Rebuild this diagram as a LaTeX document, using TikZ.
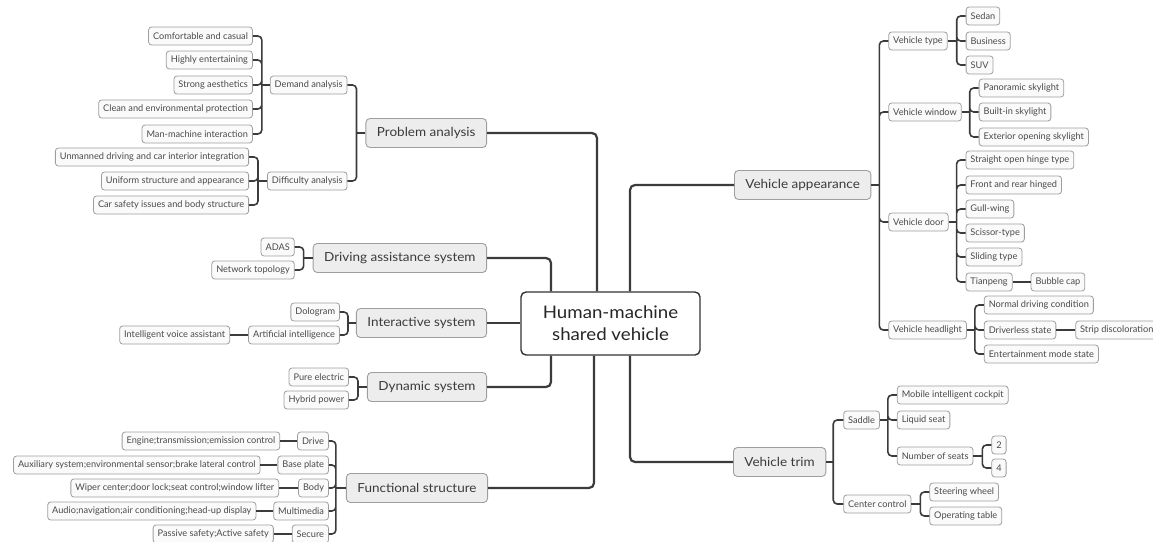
\documentclass[tikz,border=0pt]{standalone}
\usepackage{fontspec}
\setmainfont{Lato}[FakeStretch=1.08]
\newfontfamily\leaffont{Lato}
\usetikzlibrary{positioning}
\definecolor{linegray}{HTML}{3B3B3B}
\definecolor{boxgray}{HTML}{9E9E9E}
\definecolor{topicfill}{HTML}{EDEDED}
\definecolor{leaffill}{HTML}{FAFAFA}
\definecolor{textgray}{HTML}{4A4A4A}
\definecolor{rootline}{HTML}{333333}
\begin{document}
\begin{tikzpicture}[x=1pt,y=-1pt,
	leaf/.style={draw=boxgray,fill=leaffill,rounded corners=3pt,line width=0.8pt,text=textgray,font=\leaffont\fontsize{9.2}{10}\selectfont,minimum height=18pt,inner xsep=4.5pt,inner ysep=0pt},
	topic/.style={draw=boxgray,fill=topicfill,rounded corners=4pt,line width=0.9pt,text=textgray!80!black,font=\fontsize{12.5}{14}\selectfont,minimum height=29pt,inner xsep=11pt,inner ysep=0pt},
	root/.style={draw=rootline,fill=white,rounded corners=5pt,line width=1.4pt,text=black!85,font=\fontsize{17.3}{22}\selectfont,align=center,minimum width=179pt,minimum height=63pt},
	link/.style={draw=linegray,line width=2.2pt,rounded corners=5pt},
	sublink/.style={draw=linegray,line width=1.6pt,rounded corners=4pt}]
	\useasboundingbox (0,0) rectangle (1153,541);
	\clip (0,0) rectangle (1153,541);

	\node[root] (root) at (610.5,323.5) {Human-machine\\shared vehicle};

	\node[topic,anchor=east] (prob) at (487,133) {Problem analysis};
	\node[topic,anchor=east] (assist) at (487,258) {Driving assistance system};
	\node[topic,anchor=east] (inter) at (487,323) {Interactive system};
	\node[topic,anchor=east] (dyn) at (487,387) {Dynamic system};
	\node[topic,anchor=east] (func) at (488,488) {Functional structure};
	\node[topic,anchor=west] (appear) at (734,185) {Vehicle appearance};
	\node[topic,anchor=west] (trim) at (733,462) {Vehicle trim};

	% problem analysis
	\node[leaf,anchor=east] (dem) at ([xshift=-18pt]prob.west |- 0,85) {Demand analysis};
	\node[leaf,anchor=east] (dif) at ([xshift=-18pt]prob.west |- 0,181) {Difficulty analysis};
	\node[leaf,anchor=east] (dem1) at ([xshift=-17pt]dem.west |- 0,36) {Comfortable and casual};
	\node[leaf,anchor=east] (dem2) at ([xshift=-17pt]dem.west |- 0,60) {Highly entertaining};
	\node[leaf,anchor=east] (dem3) at ([xshift=-17pt]dem.west |- 0,85) {Strong aesthetics};
	\node[leaf,anchor=east] (dem4) at ([xshift=-17pt]dem.west |- 0,109) {Clean and environmental protection};
	\node[leaf,anchor=east] (dem5) at ([xshift=-17pt]dem.west |- 0,134) {Man-machine interaction};
	\node[leaf,anchor=east] (dif1) at ([xshift=-18pt]dif.west |- 0,157) {Unmanned driving and car interior integration};
	\node[leaf,anchor=east] (dif2) at ([xshift=-18pt]dif.west |- 0,181) {Uniform structure and appearance};
	\node[leaf,anchor=east] (dif3) at ([xshift=-18pt]dif.west |- 0,205) {Car safety issues and body structure};

	% driving assistance, interaction, dynamics
	\node[leaf,anchor=east] (adas) at ([xshift=-18pt]assist.west |- 0,247) {ADAS};
	\node[leaf,anchor=east] (net) at ([xshift=-18pt]assist.west |- 0,270) {Network topology};
	\node[leaf,anchor=east] (holo) at ([xshift=-16pt]inter.west |- 0,312) {Dologram};
	\node[leaf,anchor=east] (ai) at ([xshift=-16pt]inter.west |- 0,335) {Artificial intelligence};
	\node[leaf] (voice) [left=18pt of ai] {Intelligent voice assistant};
	\node[leaf,anchor=east] (elec) at ([xshift=-18pt]dyn.west |- 0,377) {Pure electric};
	\node[leaf,anchor=east] (hyb) at ([xshift=-18pt]dyn.west |- 0,400) {Hybrid power};

	% functional structure
	\node[leaf,anchor=east] (drive) at ([xshift=-17pt]func.west |- 0,441) {Drive};
	\node[leaf,anchor=east] (base) at ([xshift=-17pt]func.west |- 0,465) {Base plate};
	\node[leaf,anchor=east] (body) at ([xshift=-17pt]func.west |- 0,488) {Body};
	\node[leaf,anchor=east] (media) at ([xshift=-17pt]func.west |- 0,511) {Multimedia};
	\node[leaf,anchor=east] (secure) at ([xshift=-17pt]func.west |- 0,534) {Secure};
	\node[leaf] (engine) [left=17pt of drive] {Engine;transmission;emission control};
	\node[leaf] (aux) [left=17pt of base] {Auxiliary system;environmental sensor;brake lateral control};
	\node[leaf] (wiper) [left=19pt of body] {Wiper center;door lock;seat control;window lifter};
	\node[leaf] (audio) [left=17pt of media] {Audio;navigation;air conditioning;head-up display};
	\node[leaf] (safety) [left=18pt of secure] {Passive safety;Active safety};

	% vehicle appearance
	\node[leaf,anchor=west] (vtype) at ([xshift=17pt]appear.east |- 0,41) {Vehicle type};
	\node[leaf,anchor=west] (window) at ([xshift=17pt]appear.east |- 0,112) {Vehicle window};
	\node[leaf,anchor=west] (door) at ([xshift=17pt]appear.east |- 0,222) {Vehicle door};
	\node[leaf,anchor=west] (lamp) at ([xshift=17pt]appear.east |- 0,330) {Vehicle headlight};
	\node[leaf,anchor=west] (sedan) at ([xshift=18pt]vtype.east |- 0,16) {Sedan};
	\node[leaf,anchor=west] (business) at ([xshift=18pt]vtype.east |- 0,41) {Business};
	\node[leaf,anchor=west] (suv) at ([xshift=18pt]vtype.east |- 0,65) {SUV};
	\node[leaf,anchor=west] (pano) at ([xshift=17pt]window.east |- 0,88) {Panoramic skylight};
	\node[leaf,anchor=west] (builtin) at ([xshift=17pt]window.east |- 0,112) {Built-in skylight};
	\node[leaf,anchor=west] (exterior) at ([xshift=17pt]window.east |- 0,137) {Exterior opening skylight};
	\node[leaf,anchor=west] (hinge) at ([xshift=17pt]door.east |- 0,160) {Straight open hinge type};
	\node[leaf,anchor=west] (frontrear) at ([xshift=17pt]door.east |- 0,185) {Front and rear hinged};
	\node[leaf,anchor=west] (gull) at ([xshift=17pt]door.east |- 0,209) {Gull-wing};
	\node[leaf,anchor=west] (scissor) at ([xshift=17pt]door.east |- 0,233) {Scissor-type};
	\node[leaf,anchor=west] (sliding) at ([xshift=17pt]door.east |- 0,257) {Sliding type};
	\node[leaf,anchor=west] (tianpeng) at ([xshift=17pt]door.east |- 0,282) {Tianpeng};
	\node[leaf] (bubble) [right=18pt of tianpeng] {Bubble cap};
	\node[leaf,anchor=west] (normal) at ([xshift=17pt]lamp.east |- 0,305) {Normal driving condition};
	\node[leaf,anchor=west] (driverless) at ([xshift=17pt]lamp.east |- 0,330) {Driverless state};
	\node[leaf,anchor=west] (fun) at ([xshift=17pt]lamp.east |- 0,354) {Entertainment mode state};
	\node[leaf] (strip) [right=19pt of driverless] {Strip discoloration};

	% vehicle trim
	\node[leaf,anchor=west] (saddle) at ([xshift=17pt]trim.east |- 0,420) {Saddle};
	\node[leaf,anchor=west] (ctrl) at ([xshift=17pt]trim.east |- 0,504) {Center control};
	\node[leaf,anchor=west] (cockpit) at ([xshift=17pt]saddle.east |- 0,395) {Mobile intelligent cockpit};
	\node[leaf,anchor=west] (liquid) at ([xshift=17pt]saddle.east |- 0,420) {Liquid seat};
	\node[leaf,anchor=west] (seats) at ([xshift=17pt]saddle.east |- 0,456) {Number of seats};
	\node[leaf,anchor=west] (two) at ([xshift=18pt]seats.east |- 0,445) {2};
	\node[leaf,anchor=west] (four) at ([xshift=18pt]seats.east |- 0,468) {4};
	\node[leaf,anchor=west] (wheel) at ([xshift=18pt]ctrl.east |- 0,492) {Steering wheel};
	\node[leaf,anchor=west] (table) at ([xshift=18pt]ctrl.east |- 0,516) {Operating table};

	% main branches
	\draw[link] ([xshift=-13.5pt]root.north) |- (prob.east);
	\draw[link] ([xshift=-59.5pt]root.north) |- (assist.east);
	\draw[link] (root.west |- inter.east) -- (inter.east);
	\draw[link] ([xshift=-59.5pt]root.south) |- (dyn.east);
	\draw[link] ([xshift=-16.5pt]root.south) |- (func.east);
	\draw[link] ([xshift=19.5pt]root.north) |- (appear.west);
	\draw[link] ([xshift=19.5pt]root.south) |- (trim.west);

	% left brackets
	\draw[sublink] (prob.west) -- ++(-9,0) coordinate (probj);
	\draw[sublink] (probj) |- (dem.east) (probj) |- (dif.east);
	\draw[sublink] (dem.west) -- ++(-8,0) coordinate (demj);
	\draw[sublink] (demj) |- (dem1.east) (demj) |- (dem2.east) (demj) |- (dem3.east) (demj) |- (dem4.east) (demj) |- (dem5.east);
	\draw[sublink] (dif.west) -- ++(-9,0) coordinate (difj);
	\draw[sublink] (difj) |- (dif1.east) (difj) |- (dif2.east) (difj) |- (dif3.east);
	\draw[sublink] (assist.west) -- ++(-9,0) coordinate (assistj);
	\draw[sublink] (assistj) |- (adas.east) (assistj) |- (net.east);
	\draw[sublink] (inter.west) -- ++(-8,0) coordinate (interj);
	\draw[sublink] (interj) |- (holo.east) (interj) |- (ai.east);
	\draw[sublink] (ai.west) -- (voice.east);
	\draw[sublink] (dyn.west) -- ++(-9,0) coordinate (dynj);
	\draw[sublink] (dynj) |- (elec.east) (dynj) |- (hyb.east);
	\draw[sublink] (func.west) -- ++(-10,0) coordinate (funcj);
	\draw[sublink] (funcj) |- (drive.east) (funcj) |- (base.east) (funcj) |- (body.east) (funcj) |- (media.east) (funcj) |- (secure.east);
	\draw[sublink] (drive.west) -- (engine.east);
	\draw[sublink] (base.west) -- (aux.east);
	\draw[sublink] (body.west) -- (wiper.east);
	\draw[sublink] (media.west) -- (audio.east);
	\draw[sublink] (secure.west) -- (safety.east);

	% right brackets
	\draw[sublink] (appear.east) -- ++(8,0) coordinate (appearj);
	\draw[sublink] (appearj) |- (vtype.west) (appearj) |- (window.west) (appearj) |- (door.west) (appearj) |- (lamp.west);
	\draw[sublink] (vtype.east) -- ++(9,0) coordinate (vtypej);
	\draw[sublink] (vtypej) |- (sedan.west) (vtypej) |- (business.west) (vtypej) |- (suv.west);
	\draw[sublink] (window.east) -- ++(8,0) coordinate (windowj);
	\draw[sublink] (windowj) |- (pano.west) (windowj) |- (builtin.west) (windowj) |- (exterior.west);
	\draw[sublink] (door.east) -- ++(8,0) coordinate (doorj);
	\draw[sublink] (doorj) |- (hinge.west) (doorj) |- (frontrear.west) (doorj) |- (gull.west) (doorj) |- (scissor.west) (doorj) |- (sliding.west) (doorj) |- (tianpeng.west);
	\draw[sublink] (tianpeng.east) -- (bubble.west);
	\draw[sublink] (lamp.east) -- ++(8,0) coordinate (lampj);
	\draw[sublink] (lampj) |- (normal.west) (lampj) |- (driverless.west) (lampj) |- (fun.west);
	\draw[sublink] (driverless.east) -- (strip.west);
	\draw[sublink] (trim.east) -- ++(7,0) coordinate (trimj);
	\draw[sublink] (trimj) |- (saddle.west) (trimj) |- (ctrl.west);
	\draw[sublink] (saddle.east) -- ++(8,0) coordinate (saddlej);
	\draw[sublink] (saddlej) |- (cockpit.west) (saddlej) |- (liquid.west) (saddlej) |- (seats.west);
	\draw[sublink] (seats.east) -- ++(9,0) coordinate (seatsj);
	\draw[sublink] (seatsj) |- (two.west) (seatsj) |- (four.west);
	\draw[sublink] (ctrl.east) -- ++(9,0) coordinate (ctrlj);
	\draw[sublink] (ctrlj) |- (wheel.west) (ctrlj) |- (table.west);
\end{tikzpicture}
\end{document}
